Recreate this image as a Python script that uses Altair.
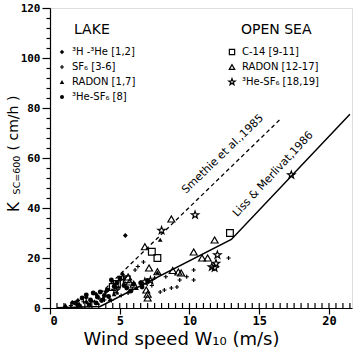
import altair as alt
import pandas as pd

# ---------------- data ----------------
# Lake: 3H-3He (filled diamonds)
h3he_x = [5.4, 2.0, 2.6, 3.3, 4.0, 1.6]
h3he_y = [29.0, 3.0, 4.2, 5.5, 6.5, 2.2]
# Lake: SF6 (small plus)
sf6_x = [1.5, 2.1, 2.7, 3.2, 3.9, 4.4, 5.1, 5.6, 6.1, 6.7, 7.3, 7.5, 7.9, 8.2, 8.7, 9.1,
         9.3, 9.8, 10.3, 10.3, 12.8, 6.3, 5.9, 4.8, 3.5, 2.4, 7.0, 8.3]
sf6_y = [1.0, 1.5, 1.8, 2.5, 3.2, 3.0, 5.0, 6.0, 15.2, 18.4, 9.0, 12.0, 6.4, 7.2, 8.0, 8.4,
         11.2, 12.5, 15.2, 11.2, 20.0, 16.6, 7.5, 6.0, 4.0, 2.5, 10.5, 12.5]
# Lake: Radon (filled triangles)
rl_x = [1.1, 1.9, 2.6, 3.0, 3.8, 4.3, 4.6, 5.2, 5.7, 6.2, 2.2, 3.4, 4.9, 7.9, 7.7]
rl_y = [1.2, 2.0, 2.8, 3.0, 4.0, 3.5, 5.5, 14.0, 7.0, 8.0, 1.0, 2.0, 8.5, 27.3, 14.2]
# Lake: 3He-SF6 (filled dots)
hl_x = [1.8, 2.3, 2.9, 3.1, 3.6, 4.1, 4.4, 4.8, 5.0, 3.4, 2.6, 5.5, 6.0, 6.5, 7.0, 6.6,
        3.9, 4.6, 5.3, 2.0, 2.8, 3.3, 4.2, 3.7, 5.8]
hl_y = [2.0, 4.0, 3.2, 6.0, 6.4, 7.2, 11.2, 10.0, 12.0, 4.4, 5.2, 8.0, 9.5, 10.0, 11.0, 8.4,
        5.0, 8.6, 9.0, 1.2, 1.2, 2.0, 4.6, 3.0, 6.8]
# Open sea: C-14 (open squares)
c14_x = [7.3, 7.7, 4.5, 4.8, 12.9, 5.5]
c14_y = [22.5, 20.0, 8.4, 9.6, 30.0, 11.5]
# Open sea: Radon (open triangles)
rs_x = [8.7, 6.8, 7.1, 7.7, 8.8, 9.2, 9.4, 10.3, 10.9, 11.3, 11.8, 7.0, 6.9, 5.7, 5.6, 7.0, 6.0]
rs_y = [35.6, 24.5, 16.0, 14.5, 15.0, 14.4, 14.0, 22.4, 20.0, 20.0, 27.2, 4.0, 7.2, 10.4, 12.4, 5.5, 9.5]
# Open sea: 3He-SF6 (open stars)
st_x = [8.0, 10.4, 12.0, 11.6, 11.8, 11.9, 6.8, 17.3, 5.2, 7.2, 4.7]
st_y = [31.0, 37.2, 21.2, 16.4, 16.0, 17.8, 10.4, 53.2, 12.0, 11.0, 7.0]

# Relationships (vertices)
lm_x = [0.5, 3.6, 13.0, 21.5]
lm_y = [0.1, 0.6, 27.4, 77.5]
sm_x = [2.9, 16.6]
sm_y = [2.0, 76.0]

minor_x = [i * 0.5 for i in range(1, 44)]

lake_labels = ["³H -³He [1,2]", "SF₆ [3-6]", "RADON [1,7]", "³He-SF₆ [8]"]
sea_labels = ["C-14 [9-11]", "RADON [12-17]", "³He-SF₆ [18,19]"]

# ---------------- encodings ----------------
STAR = ("M0,-1L0.235,-0.324L0.951,-0.309L0.38,0.124L0.588,0.809L0,0.4"
        "L-0.588,0.809L-0.38,0.124L-0.951,-0.309L-0.235,-0.324Z")
PLUS = "M-1,0L1,0M0,-1L0,1"

xscale = alt.Scale(domain=[0, 21.65], nice=False, zero=False)
yscale = alt.Scale(domain=[0, 120], nice=False)
xaxis = alt.Axis(values=[0, 5, 10, 15, 20], tickSize=6, tickColor="black", tickWidth=1.2,
                 domainColor="black", domainWidth=1.2,
                 labelFont="DejaVu Sans Mono", labelFontWeight="bold", labelFontSize=12,
                 labelColor="black", labelPadding=1, grid=False,
                 title="Wind  speed  W₁₀  (m/s)", titleFont="DejaVu Sans", titleFontSize=18,
                 titleFontWeight="normal", titleColor="black", titleX=131, titleY=31,
                 titleBaseline="middle")
yaxis = alt.Axis(values=list(range(0, 121, 4)), grid=False, tickColor="black", tickWidth=1.2,
                 domainColor="black", domainWidth=1.2,
                 tickSize={"condition": {"test": "datum.value % 20 === 0", "value": 8}, "value": 4},
                 labelExpr="datum.value % 20 === 0 ? datum.label : ''",
                 labelFont="DejaVu Sans Mono", labelFontWeight="bold", labelFontSize=11,
                 labelColor="black", labelPadding=2, title=None)
X = alt.X("x:Q", scale=xscale, axis=xaxis)
Y = alt.Y("y:Q", scale=yscale, axis=yaxis)


def pts(xs, ys, shape, size, filled, sw=1.2):
    df = pd.DataFrame({"x": xs, "y": ys})
    return alt.Chart(df).mark_point(shape=shape, size=size, filled=filled, color="black",
                                    strokeWidth=sw, opacity=1).encode(x=X, y=Y)


layers = []
# minor x ticks (inside)
layers.append(alt.Chart(pd.DataFrame({"x": minor_x})).mark_rule(color="black", strokeWidth=1.2)
              .encode(x=X, y=alt.value(300), y2=alt.value(295)))
# lines
layers.append(alt.Chart(pd.DataFrame({"x": lm_x, "y": lm_y})).mark_line(color="black", strokeWidth=1.5)
              .encode(x=X, y=Y))
layers.append(alt.Chart(pd.DataFrame({"x": sm_x, "y": sm_y}))
              .mark_line(color="black", strokeWidth=1.3, strokeDash=[4, 3]).encode(x=X, y=Y))
# points
layers.append(pts(sf6_x, sf6_y, PLUS, 18, False, 1.2))
layers.append(pts(hl_x, hl_y, "circle", 24, True))
layers.append(pts(rl_x, rl_y, "triangle-up", 24, True))
layers.append(pts(h3he_x, h3he_y, "diamond", 24, True))
layers.append(pts(c14_x, c14_y, "square", 45, False))
layers.append(pts(rs_x, rs_y, "triangle-up", 48, False))
layers.append(pts(st_x, st_y, STAR, 60, False))

# line labels
layers.append(alt.Chart(pd.DataFrame({"x": [12.4], "y": [61.5], "t": ["Smethie et al.,1985"]}))
              .mark_text(angle=316, font="DejaVu Sans", fontSize=11, color="black")
              .encode(x=X, y=Y, text="t:N"))
layers.append(alt.Chart(pd.DataFrame({"x": [16.0], "y": [53.5], "t": ["Liss & Merlivat,1986"]}))
              .mark_text(angle=313, font="DejaVu Sans", fontSize=11, color="black")
              .encode(x=X, y=Y, text="t:N"))


def txt(s, px, py, size, align="left", angle=0, font="DejaVu Sans"):
    return (alt.Chart(pd.DataFrame({"t": [s]}))
            .mark_text(align=align, baseline="middle", fontSize=size, font=font,
                       color="black", angle=angle)
            .encode(x=alt.value(px), y=alt.value(py), text="t:N"))


def sym(shape, px, py, size, filled):
    return (alt.Chart(pd.DataFrame({"t": [0]}))
            .mark_point(shape=shape, size=size, filled=filled, color="black", opacity=1, strokeWidth=1.2)
            .encode(x=alt.value(px), y=alt.value(py)))


layers.append(txt("LAKE", 24, 22, 14))
layers.append(txt("OPEN SEA", 191, 22, 14))
lake_shapes = [("diamond", 20, True), (PLUS, 16, False), ("triangle-up", 20, True), ("circle", 16, True)]
for i, (lab, (shp, sz, fl)) in enumerate(zip(lake_labels, lake_shapes)):
    yy = 44 + 15 * i
    layers.append(sym(shp, 12, yy, sz, fl))
    layers.append(txt(lab, 22, yy, 10))
sea_shapes = [("square", 28, False), ("triangle-up", 30, False), (STAR, 44, False)]
for i, (lab, (shp, sz, fl)) in enumerate(zip(sea_labels, sea_shapes)):
    yy = 44 + 15 * i
    layers.append(sym(shp, 182, yy, sz, fl))
    layers.append(txt(lab, 192, yy, 10))

# y-axis title
layers.append(txt("K", -36, 199, 15, align="center", angle=270))
layers.append(txt("SC=600", -33, 167, 9.5, align="center", angle=270))
layers.append(txt("( cm/h )", -36, 115, 14, align="center", angle=270))

chart = (alt.layer(*layers)
         .properties(width=302, height=300, autosize="none",
                     padding={"left": 50, "top": 8, "right": 2, "bottom": 42})
         .configure_view(stroke="black", strokeWidth=1.2)
         .configure(background="white"))

chart.save("out.html", embed_options={"renderer": "svg", "actions": False})
